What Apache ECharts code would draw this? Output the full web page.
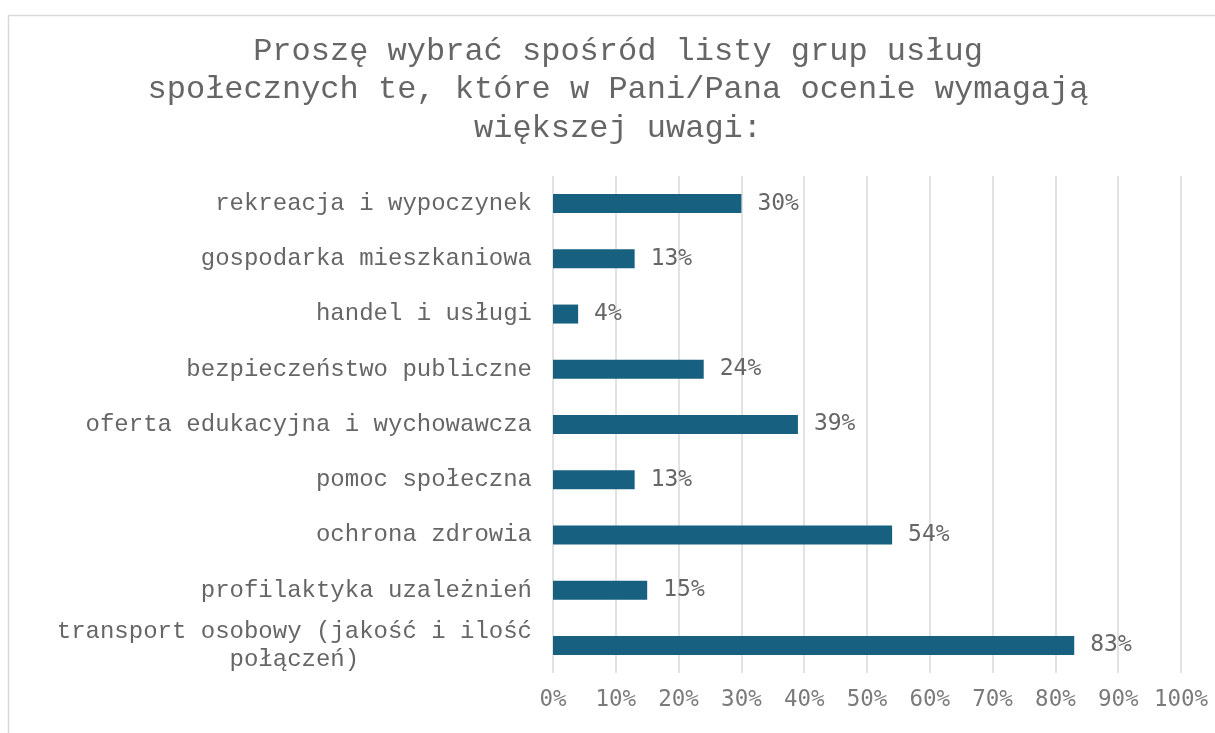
<!DOCTYPE html>
<html>
<head>
<meta charset="utf-8">
<script src="https://cdn.jsdelivr.net/npm/echarts@6/dist/echarts.min.js"></script>
<style>
html,body{margin:0;padding:0;background:#fff;}
#chart{width:1215px;height:733px;}
</style>
</head>
<body>
<div id="chart"></div>
<script>
const titleText = 'Proszę wybrać spośród listy grup usług\nspołecznych te, które w Pani/Pana ocenie wymagają\nwiększej uwagi:';
const categories = [
  'rekreacja i wypoczynek',
  'gospodarka mieszkaniowa',
  'handel i usługi',
  'bezpieczeństwo publiczne',
  'oferta edukacyjna i wychowawcza',
  'pomoc społeczna',
  'ochrona zdrowia',
  'profilaktyka uzależnień',
  'transport osobowy (jakość i ilość połączeń)'
];
const values = [30, 13, 4, 24, 39, 13, 54, 15, 83];
const xTicks = [0, 10, 20, 30, 40, 50, 60, 70, 80, 90, 100];

const chart = echarts.init(document.getElementById('chart'));
chart.setOption({
  backgroundColor: '#ffffff',
  animation: false,
  graphic: [
    {type: 'rect', z: -10, shape: {x: 8.5, y: 15.5, width: 1300, height: 800},
     style: {fill: 'none', stroke: '#d9d9d9', lineWidth: 1.5}},
    {type: 'text', x: 618, y: 32,
     style: {text: titleText, fill: '#666666', font: '32px "Liberation Mono", "Courier New", monospace',
             textAlign: 'center', textVerticalAlign: 'top', lineHeight: 38.5}}
  ],
  grid: {left: 553, right: 34, top: 176, bottom: 60, containLabel: false},
  xAxis: {
    type: 'value', min: xTicks[0], max: xTicks[xTicks.length - 1], interval: 10,
    axisLine: {show: false}, axisTick: {show: false},
    splitLine: {show: true, lineStyle: {color: '#d9d9d9', width: 1.5}},
    axisLabel: {formatter: v => v + '%', color: '#7a7a7a', margin: 16,
                fontFamily: '"DejaVu Sans Mono", monospace', fontSize: 22.5}
  },
  yAxis: {
    type: 'category', data: categories, inverse: true,
    axisLine: {show: false}, axisTick: {show: false},
    axisLabel: {
      color: '#666666', margin: 21,
      fontFamily: '"Liberation Mono", "Courier New", monospace', fontSize: 24,
      lineHeight: 28,
      formatter: function (v) {
        if (v.length > 33) {
          const first = 'transport osobowy (jakość i ilość';
          const second = v.slice(first.length + 1);
          const pad = Math.round((first.length - second.length) / 2);
          return first + '\n' + second + ' '.repeat(pad);
        }
        return v;
      }
    }
  },
  series: [{
    type: 'bar', data: values, barWidth: 19,
    itemStyle: {color: '#17607f'},
    label: {show: true, position: 'right', distance: 16, formatter: p => p.value + '%',
            color: '#666666', fontFamily: '"DejaVu Sans Mono", monospace', fontSize: 23}
  }]
});
</script>
</body>
</html>
